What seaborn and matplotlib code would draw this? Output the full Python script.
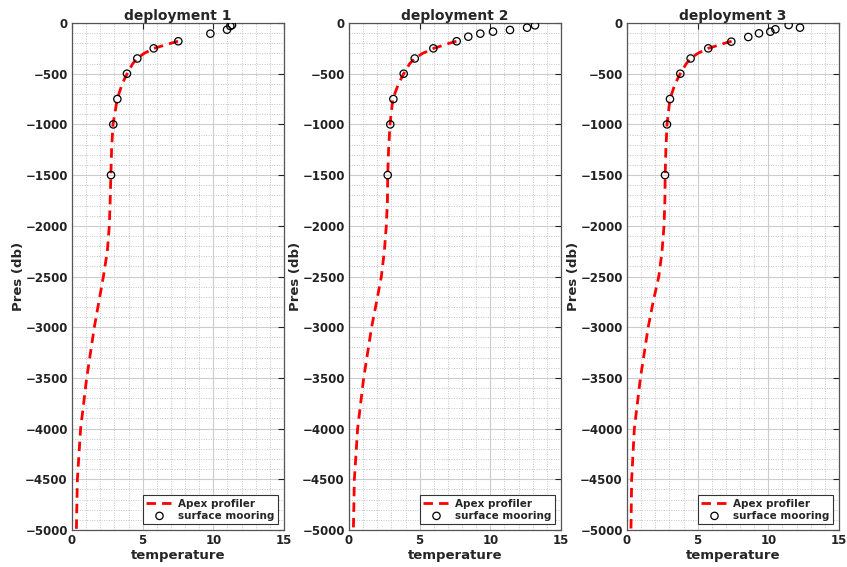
import numpy as np
import pandas as pd
import matplotlib
matplotlib.use("Agg")
import matplotlib.pyplot as plt
import seaborn as sns
from matplotlib.ticker import MultipleLocator

sns.set_style("white")
plt.rcParams['font.family'] = ['DejaVu Sans']

titles = ["deployment 1", "deployment 2", "deployment 3"]

# Apex profiler profiles (pressure levels, temperatures)
apex_pres = [-180, -200, -250, -300, -350, -400, -500, -600, -750, -1000, -1250,
             -1500, -1750, -2000, -2250, -2500, -2750, -3000, -3500, -4000, -4500, -5000]
apex_temp_1 = [7.5, 7.0, 5.8, 5.1, 4.6, 4.3, 3.9, 3.55, 3.2, 2.9, 2.8,
               2.75, 2.7, 2.64, 2.5, 2.22, 1.9, 1.58, 1.04, 0.61, 0.38, 0.31]
apex_temp_2 = [7.6, 7.1, 6.0, 5.2, 4.65, 4.3, 3.87, 3.5, 3.1, 2.9, 2.8,
               2.74, 2.72, 2.64, 2.5, 2.29, 1.95, 1.6, 1.04, 0.61, 0.38, 0.31]
apex_temp_3 = [7.4, 6.9, 5.75, 5.0, 4.5, 4.2, 3.77, 3.4, 3.04, 2.83, 2.75,
               2.7, 2.68, 2.62, 2.48, 2.25, 1.85, 1.5, 0.95, 0.52, 0.33, 0.28]

# Surface mooring observations
moor_pres_1 = [-1500, -1000, -750, -500, -350, -250, -180, -105, -66, -30, -20]
moor_temp_1 = [2.76, 2.92, 3.21, 3.89, 4.62, 5.78, 7.52, 9.79, 10.97, 11.2, 11.32]
moor_pres_2 = [-1500, -1000, -750, -500, -350, -250, -180, -135, -105, -85, -69, -46, -23]
moor_temp_2 = [2.74, 2.92, 3.14, 3.87, 4.65, 5.97, 7.62, 8.44, 9.29, 10.19, 11.39, 12.6, 13.16]
moor_pres_3 = [-1500, -1000, -750, -500, -350, -250, -184, -138, -102, -86, -62, -20, -46]
moor_temp_3 = [2.69, 2.83, 3.04, 3.77, 4.5, 5.75, 7.38, 8.58, 9.34, 10.14, 10.5, 11.44, 12.24]

apex_temps = [apex_temp_1, apex_temp_2, apex_temp_3]
moor_pres = [moor_pres_1, moor_pres_2, moor_pres_3]
moor_temps = [moor_temp_1, moor_temp_2, moor_temp_3]

fig = plt.figure(figsize=(8.47, 5.67), dpi=100)
lefts = [72 / 847, 349 / 847, 627 / 847]
w = 212 / 847
b = 37 / 567
h = 507 / 567

axcol = "#555555"
for i in range(3):
    ax = fig.add_axes([lefts[i], b, w, h])
    df_a = pd.DataFrame({"temperature": apex_temps[i], "pres": apex_pres})
    df_m = pd.DataFrame({"temperature": moor_temps[i], "pres": moor_pres[i]})
    sns.lineplot(data=df_a, x="temperature", y="pres", sort=False, estimator=None,
                 color="red", lw=2, dashes=False, ax=ax, label="Apex profiler", zorder=3)
    ax.lines[-1].set_linestyle((0, (3.4, 2.2)))
    sns.scatterplot(data=df_m, x="temperature", y="pres", ax=ax, marker="o", s=28,
                    facecolor="none", edgecolor="black", linewidth=0.9,
                    label="surface mooring", zorder=4)
    ax.set_xlim(0, 15)
    ax.set_ylim(-5000, 0)
    ax.xaxis.set_major_locator(MultipleLocator(5))
    ax.xaxis.set_minor_locator(MultipleLocator(1))
    ax.yaxis.set_major_locator(MultipleLocator(500))
    ax.yaxis.set_minor_locator(MultipleLocator(100))
    ax.grid(which="major", color="#cccccc", lw=0.8, ls="-")
    ax.grid(which="minor", color="#c4c4c4", lw=0.7, ls=(0, (1, 1.5)))
    ax.set_axisbelow(True)
    ax.tick_params(which="major", direction="in", length=4, width=0.8,
                   top=True, right=True, labelsize=8.5, colors="#222222", pad=3)
    ax.tick_params(which="minor", length=0, top=True, right=True)
    for lab in ax.get_xticklabels() + ax.get_yticklabels():
        lab.set_fontweight("bold")
    for sp in ax.spines.values():
        sp.set_color(axcol)
        sp.set_linewidth(0.9)
        sp.set_visible(True)
    ax.set_title(titles[i], fontsize=10, fontweight="bold", pad=2)
    ax.set_xlabel("temperature", fontsize=9.5, fontweight="bold", labelpad=1)
    ax.set_ylabel("Pres (db)", fontsize=9.5, fontweight="bold", labelpad=0)
    leg = ax.legend(loc="lower right", fontsize=7.5, frameon=True, fancybox=False,
                    borderpad=0.3, handlelength=2.6, handletextpad=0.5,
                    labelspacing=0.2, borderaxespad=0.6, framealpha=1)
    leg.get_frame().set_edgecolor("#333333")
    leg.get_frame().set_linewidth(0.8)
    for t in leg.get_texts():
        t.set_fontweight("bold")

fig.savefig("out.png", dpi=100)
